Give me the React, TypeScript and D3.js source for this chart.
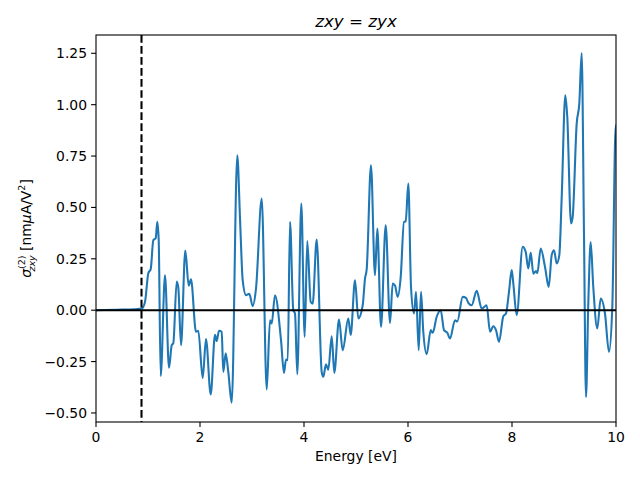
import React from "react";
import * as d3 from "d3";

const energy = [
  0, 0.5, 0.8, 0.88, 0.942, 1.006, 1.052, 1.102, 1.148, 1.179, 1.206, 1.244, 1.327, 1.404, 1.456, 1.487,
  1.552, 1.583, 1.635, 1.717, 1.783, 1.827, 1.923, 1.967, 2.052, 2.115, 2.206, 2.288, 2.321, 2.365, 2.417,
  2.448, 2.494, 2.544, 2.61, 2.717, 2.769, 2.821, 2.885, 2.948, 3.013, 3.077, 3.187, 3.283, 3.346, 3.379,
  3.442, 3.558, 3.615, 3.654, 3.687, 3.731, 3.794, 3.827, 3.871, 3.948, 4.013, 4.063, 4.129, 4.167, 4.244,
  4.34, 4.371, 4.423, 4.467, 4.533, 4.583, 4.673, 4.744, 4.852, 4.898, 4.981, 5.044, 5.129, 5.173, 5.206,
  5.288, 5.365, 5.41, 5.481, 5.571, 5.654, 5.706, 5.75, 5.802, 5.86, 5.923, 5.956, 6.006, 6.058, 6.115,
  6.154, 6.206, 6.25, 6.294, 6.36, 6.437, 6.475, 6.552, 6.629, 6.692, 6.756, 6.808, 6.904, 6.948, 7.052,
  7.115, 7.16, 7.225, 7.321, 7.417, 7.513, 7.577, 7.64, 7.692, 7.75, 7.833, 7.885, 7.942, 7.994, 8.025,
  8.09, 8.206, 8.263, 8.313, 8.36, 8.41, 8.462, 8.487, 8.552, 8.635, 8.706, 8.763, 8.808, 8.86, 8.91,
  8.956, 9.025, 9.063, 9.135, 9.167, 9.244, 9.294, 9.34, 9.385, 9.423, 9.467, 9.513, 9.563, 9.64, 9.706,
  9.788, 9.865, 9.929, 9.994, 10,
];

const sigma = [
  0, 0.003, 0.006, 0.008, 0.04, 0.18, 0.2, 0.34, 0.35, 0.43, 0.34, -0.32, 0.17, -0.28, -0.17, -0.16,
  0.14, 0.11, -0.17, 0.29, 0.12, 0.15, -0.105, -0.1, -0.33, -0.14, -0.41, -0.12, -0.15, -0.1, -0.105,
  -0.3, -0.21, -0.3, -0.45, 0.754, 0.45, 0.146, 0.073, 0.08, 0.02, 0.105, 0.543, -0.386, -0.049, -0.065,
  0.073, -0.146, -0.305, -0.24, -0.243, 0.43, 0.0, -0.016, -0.311, 0.519, -0.13, 0.337, 0.04, 0.032, 0.344,
  -0.3, -0.324, -0.263, -0.29, -0.127, -0.305, -0.045, -0.195, -0.04, -0.12, 0.146, -0.04, 0.024, 0.154, 0.2,
  0.705, 0.17, 0.397, -0.081, 0.413, -0.062, 0.13, 0.12, 0.065, 0.162, 0.43, 0.432, 0.616, 0.113, -0.016,
  0.089, -0.195, 0.089, -0.105, -0.214, -0.097, -0.11, -0.032, 0.0, -0.097, -0.11, -0.138, -0.049, -0.055, 0.065,
  0.06, 0.036, 0.024, 0.094, 0.008, 0.024, -0.105, -0.078, -0.097, -0.154, -0.029, -0.016, 0.089, 0.195, 0.13,
  -0.024, 0.308, 0.284, 0.203, 0.279, 0.178, 0.19, 0.18, 0.3, 0.21, 0.113, 0.268, 0.292, 0.227, 0.268,
  0.551, 1.046, 0.94, 0.422, 0.454, 0.908, 1.005, 1.251, 0.357, -0.422, 0.032, 0.332, 0.113, -0.089, 0.057,
  -0.016, -0.203, 0.016, 0.9, 0.9,
];

const xTicks = [0, 2, 4, 6, 8, 10];
const yTicks = [-0.5, -0.25, 0, 0.25, 0.5, 0.75, 1.0, 1.25];
const bandGap = 0.875;

const W = 640;
const H = 480;
const left = 96;
const right = 616;
const top = 35;
const bottom = 422;

export default function App() {
  const x = d3.scaleLinear().domain([0, 10]).range([left, right]);
  const y = d3.scaleLinear().domain([-0.544, 1.339]).range([bottom, top]);
  const pts: [number, number][] = energy.map((e, i) => [e, sigma[i]]);
  const line = d3
    .line<[number, number]>()
    .x((d) => x(d[0]))
    .y((d) => y(d[1]))
    .curve(d3.curveMonotoneX);
  const font = "DejaVu Sans, sans-serif";
  return (
    <svg width={W} height={H} style={{ position: "absolute", left: 0, top: 0, background: "#fff" }}>
      <defs>
        <clipPath id="clip">
          <rect x={left} y={top} width={right - left} height={bottom - top} />
        </clipPath>
      </defs>
      <rect x={0} y={0} width={W} height={H} fill="#fff" />
      <g clipPath="url(#clip)">
        <path d={line(pts) || ""} fill="none" stroke="#1f77b4" strokeWidth={2.08} strokeLinejoin="round" strokeLinecap="square" />
        <line x1={left} x2={right} y1={y(0)} y2={y(0)} stroke="#000" strokeWidth={2.08} />
        <line
          x1={x(bandGap)}
          x2={x(bandGap)}
          y1={top}
          y2={bottom}
          stroke="#000"
          strokeWidth={2.08}
          strokeDasharray="7.7,3.33"
        />
      </g>
      <rect x={left} y={top} width={right - left} height={bottom - top} fill="none" stroke="#000" strokeWidth={1.1} />
      {xTicks.map((t) => (
        <g key={"x" + t}>
          <line x1={x(t)} x2={x(t)} y1={bottom} y2={bottom + 4.9} stroke="#000" strokeWidth={1.1} />
          <text x={x(t)} y={bottom + 20} textAnchor="middle" fontFamily={font} fontSize={13.9} fill="#000">
            {t}
          </text>
        </g>
      ))}
      {yTicks.map((t) => (
        <g key={"y" + t}>
          <line x1={left - 4.9} x2={left} y1={y(t)} y2={y(t)} stroke="#000" strokeWidth={1.1} />
          <text
            x={left - 9}
            y={y(t)}
            dy="0.36em"
            textAnchor="end"
            fontFamily={font}
            fontSize={13.9}
            fill="#000"
          >
            {(t < 0 ? "\u2212" : "") + Math.abs(t).toFixed(2)}
          </text>
        </g>
      ))}
      <text x={(left + right) / 2} y={461} textAnchor="middle" fontFamily={font} fontSize={13.9} fill="#000">
        Energy [eV]
      </text>
      <text
        transform={`translate(31, ${(top + bottom) / 2}) rotate(-90)`}
        textAnchor="middle"
        fontFamily={font}
        fontSize={13.9}
        fill="#000"
      >
        <tspan fontStyle="italic">σ</tspan>
        <tspan fontSize={9.5} dy={-6}>(2)</tspan>
        <tspan fontSize={9.5} fontStyle="italic" dx={-16} dy={10}>zxy</tspan>
        <tspan dy={-4}> [nm</tspan>
        <tspan fontStyle="italic">μ</tspan>
        <tspan>A/V</tspan>
        <tspan fontSize={9.5} dy={-6}>2</tspan>
        <tspan dy={6}>]</tspan>
      </text>
      <text x={(left + right) / 2} y={27} textAnchor="middle" fontFamily={font} fontSize={16.7} fill="#000">
        <tspan fontStyle="italic">zxy</tspan>
        <tspan> = </tspan>
        <tspan fontStyle="italic">zyx</tspan>
      </text>
    </svg>
  );
}
